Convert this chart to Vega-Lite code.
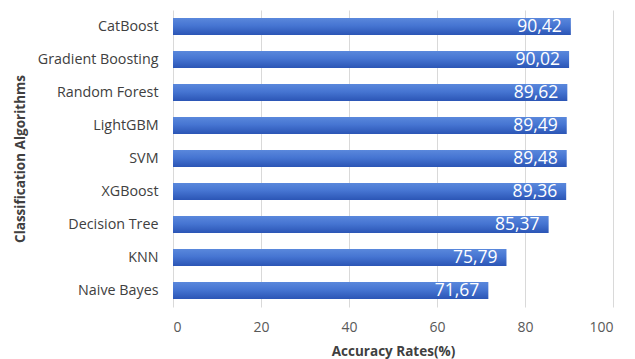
{
  "$schema": "https://vega.github.io/schema/vega-lite/v6.json",
  "width": 440,
  "height": 297,
  "autosize": {"type": "none"},
  "padding": {"left": 173, "top": 10, "right": 22, "bottom": 52},
  "config": {
    "locale": {"number": {"decimal": ",", "thousands": ".", "grouping": [3], "currency": ["", ""]}},
    "view": {"stroke": null},
    "font": "Open Sans"
  },
  "data": {
    "values": [
      {"algo": "CatBoost", "acc": 90.42},
      {"algo": "Gradient Boosting", "acc": 90.02},
      {"algo": "Random Forest", "acc": 89.62},
      {"algo": "LightGBM", "acc": 89.49},
      {"algo": "SVM", "acc": 89.48},
      {"algo": "XGBoost", "acc": 89.36},
      {"algo": "Decision Tree", "acc": 85.37},
      {"algo": "KNN", "acc": 75.79},
      {"algo": "Naive Bayes", "acc": 71.67}
    ]
  },
  "encoding": {
    "y": {
      "field": "algo", "type": "nominal", "sort": null,
      "scale": {"paddingInner": 0.48, "paddingOuter": 0.24},
      "axis": {
        "title": "Classification Algorithms",
        "titleFontSize": 13.5, "titleFontWeight": "bold", "titleColor": "#404040",
        "titlePadding": 10,
        "labelFontSize": 14.3, "labelColor": "#404040", "labelPadding": 15,
        "domain": false, "ticks": false
      }
    },
    "x": {
      "field": "acc", "type": "quantitative",
      "scale": {"domain": [0, 100]},
      "axis": {
        "title": "Accuracy Rates(%)",
        "values": [0, 20, 40, 60, 80, 100],
        "titleFontSize": 13.5, "titleFontWeight": "bold", "titleColor": "#404040",
        "titlePadding": 10,
        "labelFontSize": 14, "labelColor": "#595959", "labelPadding": 13,
        "domain": false, "ticks": false,
        "grid": true, "gridColor": "#d9d9d9", "gridWidth": 1
      }
    }
  },
  "layer": [
    {
      "mark": {
        "type": "bar",
        "color": {
          "gradient": "linear", "x1": 0, "y1": 0, "x2": 0, "y2": 1,
          "stops": [
            {"offset": 0, "color": "#5a88dc"},
            {"offset": 0.45, "color": "#4675d2"},
            {"offset": 1, "color": "#2b55b5"}
          ]
        }
      }
    },
    {
      "mark": {"type": "text", "align": "right", "dx": -9, "color": "white", "fontSize": 17.5, "baseline": "middle"},
      "encoding": {"text": {"field": "acc", "type": "quantitative", "format": ".2f"}}
    }
  ]
}
